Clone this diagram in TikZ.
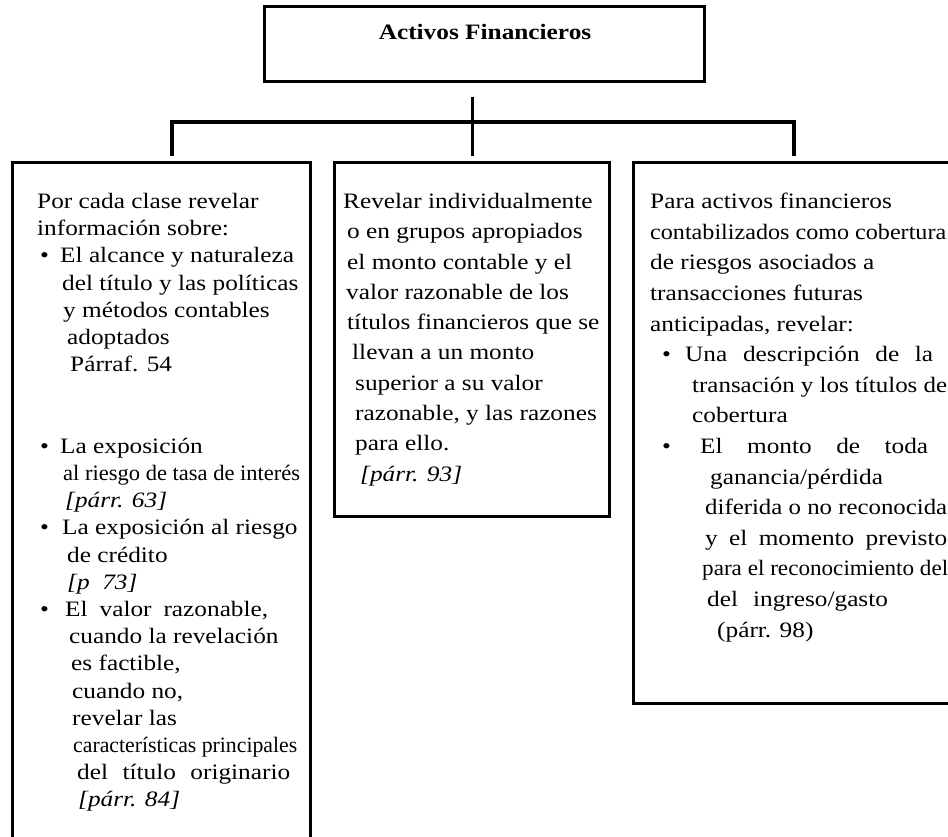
\documentclass[tikz,border=0pt]{standalone}
\usepackage{fontspec}
\setmainfont[FakeStretch=1.15]{Liberation Serif}
\usepackage{graphicx}
\usepackage{tikz}
\usetikzlibrary{positioning, calc}

% sangrias, viñetas y anchos de línea
\newcommand{\ind}[1]{\hspace*{#1pt}}
\newcommand{\pto}[2]{\makebox[#2pt][l]{\hspace*{#1pt}\textbullet}}
\newcommand{\ancho}[2]{\resizebox{#1pt}{\height}{#2}}
\newcommand{\just}[2]{\makebox[#1pt][s]{#2}}

\begin{document}
\begin{tikzpicture}[x=1pt, y=-1pt,
    caja/.style={draw, line width=3pt, inner sep=0pt, outer sep=0pt, anchor=north west},
    texto/.style={anchor=north west, inner sep=0pt, align=left},
    rama/.style={line width=4pt},
    tronco/.style={line width=3pt}]
  \useasboundingbox (0,0) rectangle (948,836);
  \clip (0,0) rectangle (948,836);

  % Cajas
  \node[caja, minimum width=440pt, minimum height=75pt] (raiz) at (264,6) {};
  \node[caja, minimum width=298pt, minimum height=700pt] (izq) at (12,162) {};
  \node[caja, minimum width=275pt, minimum height=354pt] (centro) at (334,162) {};
  \node[caja, minimum width=330pt, minimum height=541pt] (der) at (633,162) {};

  \node[anchor=base, inner sep=0pt, font=\fontsize{22}{26}\selectfont\bfseries] (titulo)
    at ($(raiz.north)+(1,33)$) {Activos Financieros};

  % Conexiones
  \coordinate (nudo) at (472,122);
  \coordinate (arriba) at (472,97);
  \coordinate (abajo) at (472,156);
  \coordinate (ramaizq) at (172,156);
  \coordinate (ramader) at (794,156);
  \draw[tronco] (arriba) -- (abajo);
  \draw[rama] (ramaizq) |- (nudo) -| (ramader);

  % Textos
  \node[texto, font=\fontsize{22}{27.2}\selectfont] (txtizq) at (37,193) {%
    Por cada clase revelar\\
    información sobre:\\
    \pto{3}{23}El alcance y naturaleza\\
    \ind{25}del título y las políticas\\
    \ind{26}y métodos contables\\
    \ind{30}adoptados\\
    \ind{33}Párraf. 54\\[54.4pt]
    \pto{3}{23}La exposición\\
    \ind{26}\ancho{237}{al riesgo de tasa de interés}\\
    \ind{28}\textit{[párr. 63]}\\
    \pto{3}{25}La exposición al riesgo\\
    \ind{30}de crédito\\
    \ind{30}\textit{[p~~73]}\\
    \pto{3}{28}\just{203}{El valor razonable,}\\
    \ind{32}cuando la revelación\\
    \ind{34}es factible,\\
    \ind{35}cuando no,\\
    \ind{35}revelar las\\
    \ind{36}\ancho{224}{características principales}\\
    \ind{40}\just{213}{del título originario}\\
    \ind{41}\textit{[párr. 84]}};

  \node[texto, font=\fontsize{22}{30.3}\selectfont] (txtcentro) at (343,193) {%
    Revelar individualmente\\
    \ind{4}o en grupos apropiados\\
    \ind{4}el monto contable y el\\
    \ind{3}valor razonable de los\\
    \ind{4}títulos financieros que se\\
    \ind{9}llevan a un monto\\
    \ind{12}superior a su valor\\
    \ind{12}razonable, y las razones\\
    \ind{12}para ello.\\
    \ind{17}\textit{[párr. 93]}};

  \node[texto, font=\fontsize{22}{30.6}\selectfont] (txtder) at (650,193) {%
    Para activos financieros\\
    \ancho{296}{contabilizados como cobertura}\\
    de riesgos asociados a\\
    transacciones futuras\\
    anticipadas, revelar:\\
    \pto{12}{35}\just{248}{Una descripción de la}\\
    \ind{42}\ancho{255}{transación y los títulos de}\\
    \ind{42}cobertura\\
    \pto{12}{50}\just{228}{El monto de toda}\\
    \ind{60}ganancia/pérdida\\
    \ind{55}\ancho{242}{diferida o no reconocida}\\
    \ind{55}\just{242}{y el momento previsto}\\
    \ind{52}\ancho{246}{para el reconocimiento del}\\
    \ind{57}del\hspace{15pt}ingreso/gasto\\
    \ind{67}(párr. 98)};
\end{tikzpicture}
\end{document}
